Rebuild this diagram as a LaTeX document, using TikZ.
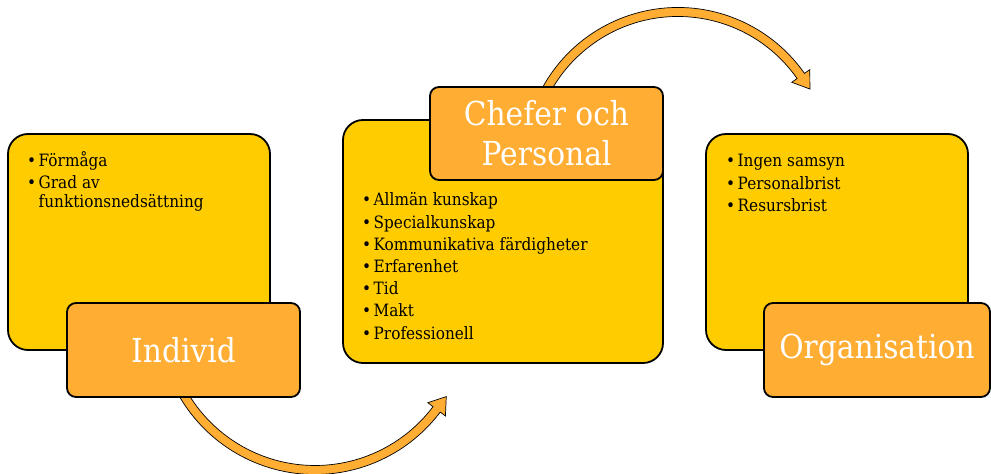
\documentclass[tikz,border=0pt]{standalone}
\usepackage{fontspec}
\setmainfont{DejaVu Serif}[FakeStretch=0.9]
\usetikzlibrary{calc}
\definecolor{boxyellow}{HTML}{FFCC00}
\definecolor{labelorange}{HTML}{FFAD33}
\begin{document}
\begin{tikzpicture}[x=1pt,y=1pt,
  panel/.style={draw=black, line width=1.8pt, fill=boxyellow, rounded corners=20pt, inner sep=0pt},
  tag/.style={draw=black, line width=1.8pt, fill=labelorange, rounded corners=9pt, inner sep=0pt,
    text=white, align=center, font=\fontsize{33}{40}\selectfont},
  item/.style={anchor=base west, inner sep=0pt, font=\fontsize{17}{20}\selectfont},
  flow/.style={draw=black, line width=0.7pt, fill=labelorange}]
\useasboundingbox (0,0) rectangle (991,474);
\newcommand{\bul}[1]{\makebox[11.5pt][l]{•}#1}

% curved arrows (drawn first, partly hidden by the labels)
\coordinate (c1) at (315,156.3);
\coordinate (c2) at (677.9,312);
\draw[flow] ($(c1)+(208:156.8pt)$) arc[start angle=208, end angle=323, radius=156.8pt]
  -- ($(c1)+(323:152.3pt)+(323:11pt)$) -- ($(c1)+(323:152.3pt)+(53:16pt)$)
  -- ($(c1)+(323:152.3pt)+(143:11pt)$) -- ($(c1)+(323:147.8pt)$)
  arc[start angle=323, end angle=208, radius=147.8pt] -- cycle;
\draw[flow] ($(c2)+(155:154.5pt)$) arc[start angle=155, end angle=35, radius=154.5pt]
  -- ($(c2)+(35:150pt)+(35:11pt)$) -- ($(c2)+(35:150pt)+(-55:16pt)$)
  -- ($(c2)+(35:150pt)+(215:11pt)$) -- ($(c2)+(35:145.5pt)$)
  arc[start angle=35, end angle=155, radius=145.5pt] -- cycle;

% panels
\node[panel, minimum width=262pt, minimum height=216pt] (p1) at (139,232) {};
\node[panel, minimum width=320pt, minimum height=243pt] (p2) at (503,232.5) {};
\node[panel, minimum width=262pt, minimum height=216pt] (p3) at (837,232) {};

% labels
\node[tag, minimum width=233pt, minimum height=94pt] (t1) at (183.5,124) {Individ};
\node[tag, minimum width=233pt, minimum height=93pt] (t2) at (546.5,340.5) {Chefer och\\Personal};
\node[tag, minimum width=226pt, minimum height=94pt] (t3) at (877,124) {Organisation};

% lists
\node[item] (a1) at (27,307) {\bul{Förmåga}};
\node[item] (a2) at (27,285) {\bul{Grad av}};
\node[item] (a3) at (27,266) {\makebox[11.5pt][l]{\phantom{•}}funktionsnedsättning};

\node[item] (b1) at (362,268) {\bul{Allmän kunskap}};
\node[item] (b2) at (362,245.8) {\bul{Specialkunskap}};
\node[item] (b3) at (362,223.6) {\bul{Kommunikativa färdigheter}};
\node[item] (b4) at (362,201.4) {\bul{Erfarenhet}};
\node[item] (b5) at (362,179.2) {\bul{Tid}};
\node[item] (b6) at (362,157) {\bul{Makt}};
\node[item] (b7) at (362,134.8) {\bul{Professionell}};

\node[item] (d1) at (726,307) {\bul{Ingen samsyn}};
\node[item] (d2) at (726,284.5) {\bul{Personalbrist}};
\node[item] (d3) at (726,262) {\bul{Resursbrist}};
\end{tikzpicture}
\end{document}
